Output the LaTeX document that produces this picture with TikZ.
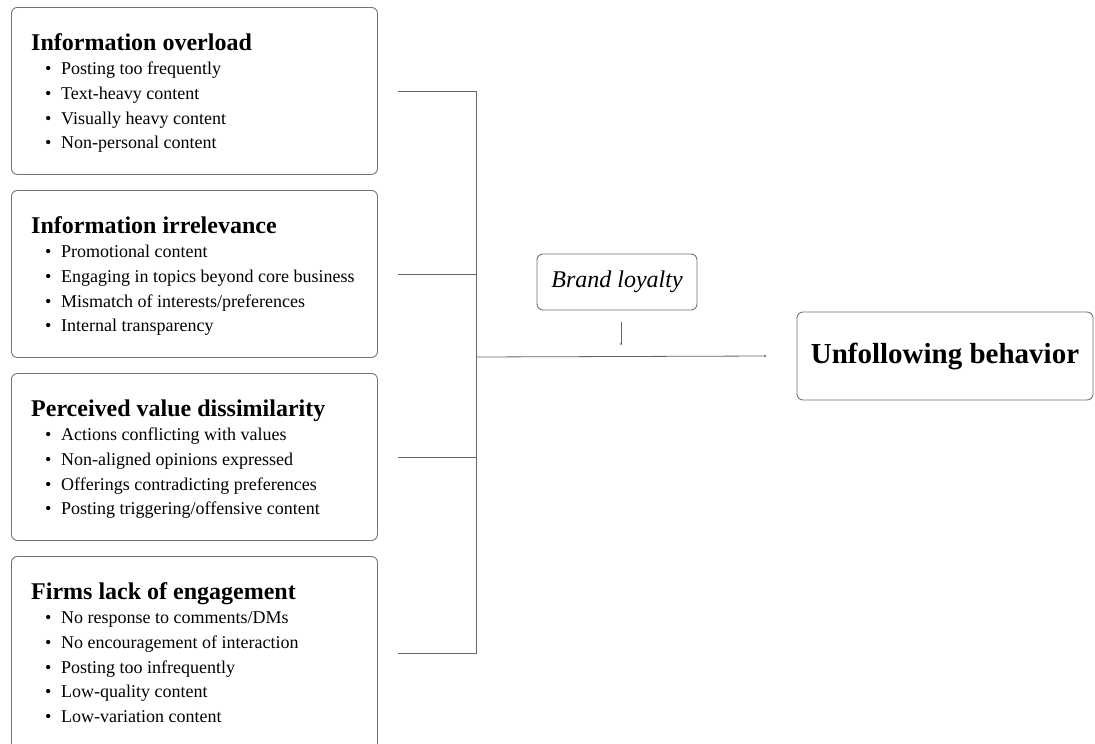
\documentclass[tikz,border=0pt]{standalone}
\usepackage{fontspec}
\setmainfont{Liberation Serif}
\usetikzlibrary{arrows.meta, positioning}

\tikzset{
    panel/.style   = {draw=black!55, line width=0.9pt, rounded corners=6pt,
                      minimum width=366pt, minimum height=167pt, inner sep=0pt},
    head/.style    = {font=\fontsize{24}{28}\selectfont\bfseries, inner sep=0pt},
    entry/.style   = {font=\fontsize{18}{22}\selectfont, inner sep=0pt},
    link/.style    = {draw=black!60, line width=0.8pt},
    pointer/.style = {link, -{Stealth[length=2.5pt, width=2.5pt]}}
}

% one factor box: name, top edge, heading, bullet items
\newcommand{\factorbox}[5][167pt]{%
    \node (#2) [panel, minimum height=#1, anchor=north west] at (11,#3) {};
    \node (#2h) [head, anchor=base west] at ([shift={(20pt,-43pt)}]#2.north west) {#4};
    \foreach \entrytext [count=\k] in {#5} {
        \node (#2b\k) [entry, anchor=base west] at ([shift={(34pt,-43pt-24.7pt*\k)}]#2.north west) {\textbullet};
        \node (#2e\k) [entry, anchor=base west] at ([shift={(50pt,-43pt-24.7pt*\k)}]#2.north west) {\entrytext};
    }
}

\begin{document}
\begin{tikzpicture}[x=1pt, y=-1pt]
    \fill [white] (0,0) rectangle (1095,744);
    \useasboundingbox (0,0) rectangle (1095,744);

    \factorbox{overload}{7}{Information overload}
        {Posting too frequently, Text-heavy content, Visually heavy content, Non-personal content}
    \factorbox{irrelevance}{190}{Information irrelevance}
        {Promotional content, Engaging in topics beyond core business,
         Mismatch of interests/preferences, Internal transparency}
    \factorbox{dissimilarity}{373}{Perceived value dissimilarity}
        {Actions conflicting with values, Non-aligned opinions expressed,
         Offerings contradicting preferences, Posting triggering/offensive content}
    \factorbox[194pt]{engagement}{556}{Firms lack of engagement}
        {No response to comments/DMs, No encouragement of interaction,
         Posting too infrequently, Low-quality content, Low-variation content}

    \node (loyalty) [draw=black!55, line width=0.9pt, rounded corners=6pt,
                     minimum width=160pt, minimum height=56pt,
                     font=\fontsize{24}{28}\selectfont\itshape] at (617,282) {Brand loyalty};
    \node (unfollow) [draw=black!55, line width=0.9pt, rounded corners=6pt,
                      minimum width=296pt, minimum height=88pt,
                      font=\fontsize{29}{34}\selectfont\bfseries] at (945,356) {Unfollowing behavior};

    \coordinate (bus) at (476,357);

    % factors into the bus
    \draw [link] ([xshift=20pt]overload.east)      -| (bus);
    \draw [link] ([xshift=20pt]irrelevance.east)   -| (bus);
    \draw [link] ([xshift=20pt]dissimilarity.east) -| (bus);
    \draw [link] ([xshift=20pt]engagement.east)    -| (bus);

    % bus to outcome, moderator onto the path
    \draw [pointer] (bus) -- ([xshift=-30pt]unfollow.west);
    \draw [pointer] ([shift={(4pt,-12pt)}]loyalty.south) -- ++(0,23);
\end{tikzpicture}
\end{document}
